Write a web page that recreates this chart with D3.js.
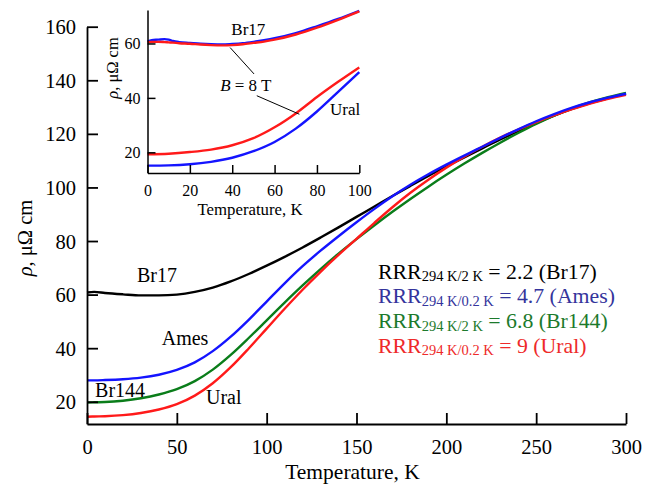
<!DOCTYPE html>
<html><head><meta charset="utf-8">
<script src="https://cdn.jsdelivr.net/npm/d3@7"></script>
<style>
html,body{margin:0;padding:0;background:#fff;}
svg{display:block;font-family:"Liberation Serif","Times New Roman",serif;}
</style></head>
<body><svg id="c" width="655" height="484"></svg>
<script>
// ---------- DATA (main chart) ----------
const temps = [0,4,10,20,30,40,50,60,70,80,90,100,110,120,130,140,150,160,170,180,190,200,210,220,230,240,250,260,270,280,290,300];
const br17  = [60.8,61.0,60.6,60.1,59.7,59.7,60.0,61.0,62.6,64.9,67.7,70.8,74.1,77.6,81.3,85.1,89.0,92.9,96.8,100.6,104.3,107.8,111.2,114.6,117.9,121.0,124.0,126.8,129.3,131.5,133.3,134.9];
const ames  = [28.0,28.0,28.1,28.4,29.0,30.1,31.9,34.7,38.9,44.3,50.6,57.4,64.2,70.6,76.4,81.8,87.0,92.0,96.7,101.0,104.9,108.5,111.9,115.2,118.5,121.7,124.7,127.4,129.8,131.8,133.5,135.0];
const br144 = [19.7,19.8,19.9,20.4,21.3,22.7,24.7,27.7,32.0,37.5,43.8,50.4,57.0,63.4,69.5,75.3,80.7,85.9,90.9,95.7,100.3,104.7,108.9,112.9,116.7,120.3,123.7,126.8,129.5,131.8,133.7,135.3];
const ural  = [14.4,14.5,14.6,15.0,15.8,17.1,19.1,22.3,26.9,32.9,39.9,47.3,54.7,61.8,68.5,74.8,80.8,86.8,92.6,98.0,102.9,107.4,111.5,115.2,118.6,121.6,124.4,126.9,129.2,131.3,133.1,134.6];
const seriesNames = ["Br17","Br144","Ural","Ames"];
const xTicks = [0,50,100,150,200,250,300];
const yTicks = [20,40,60,80,100,120,140,160];

// ---------- DATA (inset) ----------
const tInBr = [0,2,5,8,10,12,15,20,25,30,35,40,45,50,55,60,70,80,90,100];
const br17B0 = [60.8,61.2,61.4,61.6,61.4,60.9,60.5,60.2,59.9,59.7,59.6,59.8,60.1,60.6,61.2,61.9,63.8,66.3,69.0,72.0];
const br17B8 = [60.5,60.6,60.6,60.5,60.4,60.3,60.1,59.9,59.6,59.4,59.3,59.4,59.7,60.2,60.7,61.4,63.3,65.8,68.7,71.8];
const tInUr = [0,10,20,30,40,50,60,70,80,90,100];
const uralB0 = [15.1,15.2,15.6,16.5,18.0,20.4,23.8,28.7,35.0,42.2,49.5];
const uralB8 = [19.3,19.5,20.1,21.0,22.6,25.2,29.2,34.3,40.3,45.9,51.2];
const inXTicks = [0,20,40,60,80,100];
const inYTicks = [20,40,60];

// legend
const legSub = ["294 K/2 K","294 K/0.2 K","294 K/2 K","294 K/0.2 K"];
const legVal = ["2.2 (Br17)","4.7 (Ames)","6.8 (Br144)","9 (Ural)"];

// ---------- STYLE ----------
const lineCol = {Br17:"#000000", Ames:"#1414ff", Br144:"#0a7d1a", Ural:"#ff1a1a"};
const legCol = ["#000000","#34349c","#1c7a2c","#ee2a2a"];
const svg = d3.select("#c");

// ---------- MAIN ----------
const x = d3.scaleLinear().domain([0,300]).range([87,626]);
const y = d3.scaleLinear().domain([11.7,160]).range([424,26.7]);

const mainSeries = {Br17:br17, Ames:ames, Br144:br144, Ural:ural};
const line = d3.line().x(d=>x(d[0])).y(d=>y(d[1])).curve(d3.curveMonotoneX);
seriesNames.forEach(n=>{
  svg.append("path").datum(temps.map((t,i)=>[t,mainSeries[n][i]]))
    .attr("d",line).attr("fill","none").attr("stroke",lineCol[n]).attr("stroke-width",2.4);
});

const xAx = svg.append("g").attr("transform",`translate(0,${y.range()[0]})`)
  .call(d3.axisBottom(x).tickValues(xTicks).tickSizeInner(-11).tickSizeOuter(0).tickFormat(d3.format("d")));
const yAx = svg.append("g").attr("transform",`translate(${x.range()[0]},0)`)
  .call(d3.axisLeft(y).tickValues(yTicks).tickSizeInner(-11).tickSizeOuter(0).tickFormat(d3.format("d")));
[xAx,yAx].forEach(a=>{
  a.selectAll("path,line").attr("stroke","#000").attr("stroke-width",1.8);
  a.selectAll("text").attr("font-family","Liberation Serif").attr("font-size",20.5).attr("fill","#000");
});
xAx.selectAll("text").attr("y",30).attr("dy",0);
yAx.selectAll("text").attr("x",-11).attr("dy","0.34em");

svg.append("text").attr("x",(x.range()[0]+x.range()[1])/2 - 4).attr("y",478.5)
  .attr("text-anchor","middle").attr("font-size",21.5).text("Temperature, K");
const yl = svg.append("text").attr("transform",`translate(32,238) rotate(-90)`)
  .attr("text-anchor","middle").attr("font-size",20.5);
yl.append("tspan").attr("font-style","italic").text("ρ");
yl.append("tspan").text(", μΩ cm");

// curve labels (data coords)
const mainLabels = [["Br17",27.8,64.8],["Ames",41.6,41.2],["Br144",4.5,21.9],["Ural",66.2,19.1]];
mainLabels.forEach(l=>svg.append("text").attr("x",x(l[1])).attr("y",y(l[2]))
  .attr("font-size",20).text(l[0]));

// legend
legVal.forEach((v,i)=>{
  const t = svg.append("text").attr("x",378).attr("y",278.5+i*24.8).attr("fill",legCol[i]).attr("font-size",21.8);
  t.append("tspan").text("RRR");
  t.append("tspan").attr("font-size",14.5).attr("dy",2.5).text(legSub[i]);
  t.append("tspan").attr("dy",-2.5).text(" = "+v);
});

// ---------- INSET ----------
const ix = d3.scaleLinear().domain([0,100]).range([147.5,359.3]);
const iy = d3.scaleLinear().domain([12.4,72.3]).range([173,10]);
const iline = d3.line().x(d=>ix(d[0])).y(d=>iy(d[1])).curve(d3.curveMonotoneX);
const inset = [[tInBr,br17B0,"#1414ff"],[tInBr,br17B8,"#ff1a1a"],[tInUr,uralB0,"#1414ff"],[tInUr,uralB8,"#ff1a1a"]];
inset.forEach(s=>{
  svg.append("path").datum(s[0].map((t,i)=>[t,s[1][i]])).attr("d",iline)
    .attr("fill","none").attr("stroke",s[2]).attr("stroke-width",2.4);
});
const ixAx = svg.append("g").attr("transform",`translate(0,${iy.range()[0]})`)
  .call(d3.axisBottom(ix).tickValues(inXTicks).tickSizeInner(-8).tickSizeOuter(0).tickFormat(d3.format("d")));
const iyAx = svg.append("g").attr("transform",`translate(${ix.range()[0]},0)`)
  .call(d3.axisLeft(iy).tickValues(inYTicks).tickSizeInner(-8).tickSizeOuter(0).tickFormat(d3.format("d")));
[ixAx,iyAx].forEach(a=>{
  a.selectAll("path,line").attr("stroke","#000").attr("stroke-width",1.5);
  a.selectAll("text").attr("font-family","Liberation Serif").attr("font-size",16).attr("fill","#000");
});
ixAx.selectAll("text").attr("y",22.5).attr("dy",0);
iyAx.selectAll("text").attr("x",-7).attr("dy","0.34em");
svg.append("text").attr("x",250).attr("y",215).attr("text-anchor","middle").attr("font-size",16.8).text("Temperature, K");
const iyl = svg.append("text").attr("transform",`translate(118,68) rotate(-90)`)
  .attr("text-anchor","middle").attr("font-size",16.5);
iyl.append("tspan").attr("font-style","italic").text("ρ");
iyl.append("tspan").text(", μΩ cm");

svg.append("text").attr("x",ix(39.6)).attr("y",iy(63.2)).attr("font-size",17).text("Br17");
const bt = svg.append("text").attr("x",ix(34.3)).attr("y",iy(42.7)).attr("font-size",17);
bt.append("tspan").attr("font-style","italic").text("B");
bt.append("tspan").text(" = 8 T");
svg.append("text").attr("x",ix(86.2)).attr("y",iy(33.7)).attr("font-size",17).text("Ural");
// leader lines (data coords)
const leaders = [[[39,58.5],[50.3,48.8]],[[51.6,40.8],[71.7,34.0]]];
leaders.forEach(l=>svg.append("line").attr("x1",ix(l[0][0])).attr("y1",iy(l[0][1]))
  .attr("x2",ix(l[1][0])).attr("y2",iy(l[1][1])).attr("stroke","#000").attr("stroke-width",1));
</script></body></html>
